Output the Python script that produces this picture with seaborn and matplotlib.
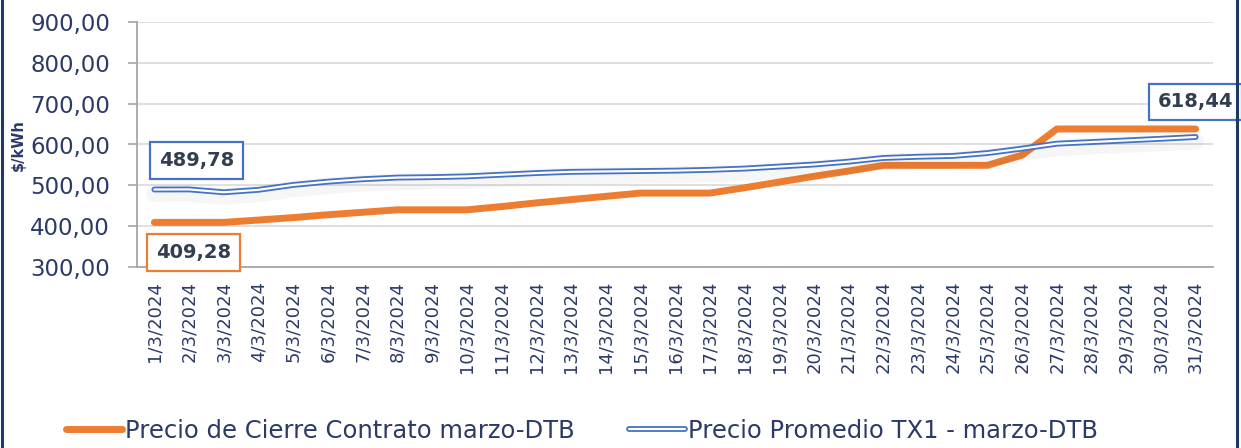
import matplotlib
matplotlib.use('Agg')
import matplotlib.pyplot as plt
import matplotlib.patheffects as pe
from matplotlib.lines import Line2D
from matplotlib.legend_handler import HandlerTuple
from matplotlib.ticker import FuncFormatter
import seaborn as sns
import pandas as pd

# DATA
fechas = ['%d/3/2024' % d for d in range(1, 32)]
cierre = [409.28, 409.28, 409.28, 415, 421, 428, 434, 440, 440, 440,
          448, 457, 465, 473, 481, 481, 481, 494, 508, 522,
          535, 549, 549, 549, 549, 574, 638, 638, 638, 638, 638]
promedio = [489.78, 490, 483, 489, 501, 509, 515, 519, 520, 522,
            526, 530, 533, 534, 535, 536, 538, 541, 546, 551,
            558, 567, 570, 572, 579, 590, 602, 606, 610, 614, 618.44]
nombre_cierre = 'Precio de Cierre Contrato marzo-DTB'
nombre_promedio = 'Precio Promedio TX1 - marzo-DTB'

df = pd.DataFrame({'idx': range(len(fechas)), 'fecha': fechas,
                   'cierre': cierre, 'promedio': promedio})

NAVY = '#2b3a67'
ORANGE = '#ED7D31'
BLUE = '#4472C4'
TXT = '#333F50'

sns.set_theme(style='white')
plt.rcParams['font.family'] = ['DejaVu Sans']

fig = plt.figure(figsize=(12.41, 4.48), dpi=100)
ax = fig.add_axes([137/1241, 1 - 267/448, (1213 - 137)/1241, (267 - 22)/448])

shadow = [pe.SimpleLineShadow(offset=(0, -3), shadow_color='k', alpha=0.035, linewidth=12),
          pe.Normal()]

sns.lineplot(data=df, x='idx', y='cierre', ax=ax, color=ORANGE, linewidth=5,
             solid_capstyle='round', zorder=3)
sns.lineplot(data=df, x='idx', y='promedio', ax=ax, color=BLUE, linewidth=4.2,
             solid_capstyle='round', path_effects=shadow, zorder=4)
sns.lineplot(data=df, x='idx', y='promedio', ax=ax, color='white', linewidth=1.6,
             solid_capstyle='round', zorder=5)

ax.set_xlim(-0.5, len(fechas) - 0.5)
ax.set_ylim(300, 900)
ax.set_yticks(range(300, 901, 100))
ax.yaxis.set_major_formatter(FuncFormatter(lambda v, p: ('%.2f' % v).replace('.', ',')))
ax.set_xticks(df['idx'])
ax.set_xticklabels(fechas, rotation=90, va='top', ha='center')
ax.set_xlabel('')
ax.set_ylabel('')

ax.grid(axis='y', color='#d9d9d9', linewidth=1.2)
ax.grid(axis='x', visible=False)
for s in ['top', 'right']:
    ax.spines[s].set_visible(False)
ax.spines['left'].set_color('#a6a6a6')
ax.spines['bottom'].set_color('#a6a6a6')
ax.spines['left'].set_linewidth(1.3)
ax.spines['bottom'].set_linewidth(1.3)
ax.tick_params(axis='y', which='major', left=True, length=6.5, width=1.2, color='#a6a6a6',
               pad=13, labelsize=16.5, labelcolor=NAVY)
ax.tick_params(axis='x', which='major', bottom=False, length=0, pad=10,
               labelsize=13, labelcolor=NAVY)

fig.text(18/1241, 1 - 145/448, '$/kWh', rotation=90, ha='center', va='center',
         fontsize=10.5, fontweight='bold', color=NAVY)

def etiqueta(i, v, dx, dy, col):
    ax.annotate(('%.2f' % v).replace('.', ','), xy=(i, v), xytext=(dx, dy),
                textcoords='offset pixels', ha='center', va='center',
                fontsize=14, fontweight='bold', color=TXT, zorder=10,
                bbox=dict(boxstyle='square,pad=0.45', fc='white', ec=col, lw=1.6),
                annotation_clip=False)

etiqueta(0, promedio[0], 42, 29, BLUE)
etiqueta(0, cierre[0], 39, -30, ORANGE)
etiqueta(len(fechas) - 1, promedio[-1], 0, 35, BLUE)

h1 = Line2D([], [], color=ORANGE, linewidth=5, solid_capstyle='round')
h2a = Line2D([], [], color=BLUE, linewidth=4.2, solid_capstyle='round')
h2b = Line2D([], [], color='white', linewidth=1.6, solid_capstyle='round')
fig.legend([h1, (h2a, h2b)], [nombre_cierre, nombre_promedio],
           handler_map={tuple: HandlerTuple(ndivide=1)},
           loc='center', bbox_to_anchor=(582/1241, 1 - 431/448), ncol=2,
           frameon=False, fontsize=17.5, labelcolor=NAVY, handlelength=2.3,
           handletextpad=0.15, columnspacing=2.2)

# marco lateral
fig.add_artist(Line2D([2/1241, 2/1241], [0, 1], color='#1F3864', linewidth=2.2,
                      transform=fig.transFigure))
fig.add_artist(Line2D([1237/1241, 1237/1241], [0, 1], color='#1F3864', linewidth=2.2,
                      transform=fig.transFigure))

plt.savefig('out.png', dpi=100)
